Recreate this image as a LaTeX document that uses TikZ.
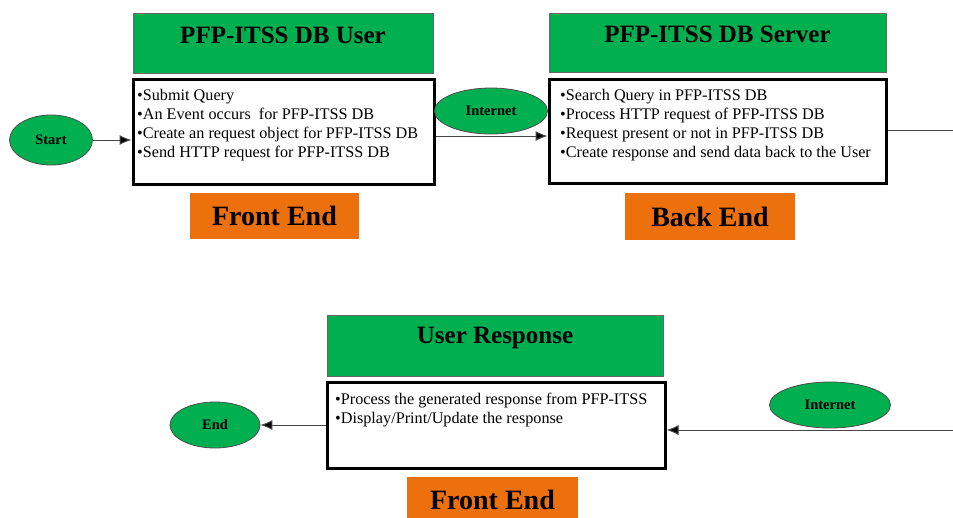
\documentclass[tikz,border=0pt]{standalone}
\usepackage{fontspec}
\setmainfont{Liberation Serif}
\usetikzlibrary{shapes.geometric,arrows.meta}
\definecolor{hgreen}{RGB}{0,176,80}
\definecolor{horange}{RGB}{236,112,12}
\definecolor{hline}{RGB}{70,70,70}
\tikzset{
  greenbox/.style={draw=black!60,line width=0.8pt,fill=hgreen,inner sep=0pt},
  whitebox/.style={draw=black,line width=3pt,fill=white,inner sep=0pt},
  orangebox/.style={fill=horange,inner sep=0pt,font=\fontsize{28}{30}\selectfont\bfseries},
  titletext/.style={font=\fontsize{25}{28}\selectfont\bfseries,inner sep=0pt},
  bodytext/.style={font=\fontsize{16.2}{19}\selectfont,align=left,anchor=north west,inner sep=0pt},
  oval/.style={ellipse,draw=black!70,line width=0.8pt,fill=hgreen,inner sep=0pt,font=\fontsize{14.5}{16}\selectfont\bfseries},
  arr/.style={draw=hline,line width=1pt,-{Latex[length=12pt,width=10pt,fill=black]}},
  plain/.style={draw=hline,line width=1pt}
}
\begin{document}
\begin{tikzpicture}[x=1pt,y=-1pt]
\useasboundingbox (0,0) rectangle (953,517);
% top row
\node[greenbox,minimum width=300,minimum height=60] (g1) at (283,43) {};
\node[titletext] (t1) at (283,35) {PFP-ITSS DB User};
\node[whitebox,minimum width=301,minimum height=105] (w1) at (283.5,131.5) {};
\node[bodytext] (b1) at (137,89) {•Submit Query\\•An Event occurs\ \ for PFP-ITSS DB\\•Create an request object\ for PFP-ITSS DB\\•Send HTTP request for PFP-ITSS DB};
\node[orangebox,minimum width=169,minimum height=46] (o1) at (274.5,216) {Front End};

\node[greenbox,minimum width=337,minimum height=59] (g2) at (717.5,42.5) {};
\node[titletext] (t2) at (717.5,34) {PFP-ITSS DB Server};
\node[whitebox,minimum width=337,minimum height=104] (w2) at (717.5,131) {};
\node[bodytext] (b2) at (560,89) {•Search Query in PFP-ITSS DB\\•Process HTTP request of PFP-ITSS DB\\•Request present or not in PFP-ITSS DB\\•Create response and send data back to the User};
\node[orangebox,minimum width=170,minimum height=47] (o2) at (710,216.5) {Back End};

\node[oval,minimum width=83,minimum height=50] (start) at (51,140) {Start};
\node[oval,minimum width=113,minimum height=46] (net1) at (491,111) {Internet};

% bottom row
\node[greenbox,minimum width=336,minimum height=61] (g3) at (495,345.5) {};
\node[titletext] (t3) at (495,338) {User Response};
\node[whitebox,minimum width=338,minimum height=86] (w3) at (496,425) {};
\node[bodytext] (b3) at (335,393) {•Process the generated response from PFP-ITSS\\•Display/Print/Update the response};
\node[orangebox,minimum width=171,minimum height=46] (o3) at (492.5,500) {Front End};

\node[oval,minimum width=90,minimum height=46] (end) at (215,425) {End};
\node[oval,minimum width=121,minimum height=46] (net2) at (830,405) {Internet};

\coordinate (r1) at (953,130);
\coordinate (r2) at (953,430);

% connectors
\draw[arr] (start.east) -- (start -| w1.west);
\draw[arr] ([yshift=-4.5pt]w1.east) -- ([yshift=-4.5pt]w1.east -| w2.west);
\draw[plain] (w2.east |- r1) -- (r1);
\draw[arr] (r2) -- (r2 -| w3.east);
\draw[arr] (w3.west |- end) -- (end.east);
\end{tikzpicture}
\end{document}
